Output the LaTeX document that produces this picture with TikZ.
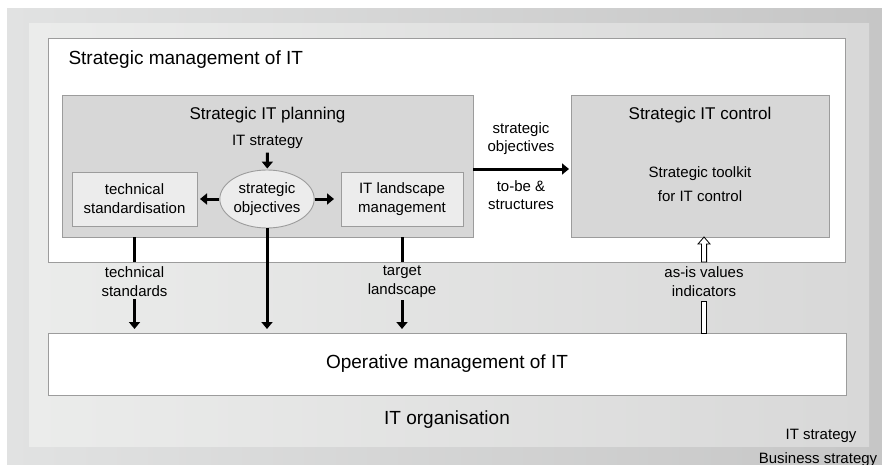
\documentclass[tikz,border=0pt]{standalone}
\usepackage{fontspec}
\setmainfont{Liberation Sans}
\usetikzlibrary{calc,positioning,arrows.meta,shapes.geometric,fit}
\definecolor{outerl}{HTML}{E1E2E2}
\definecolor{outerr}{HTML}{C6C6C6}
\definecolor{innerl}{HTML}{EBECEB}
\definecolor{innerr}{HTML}{D8D8D8}
\definecolor{edgegray}{HTML}{9C9C9C}
\definecolor{boxgray}{HTML}{D7D7D7}
\definecolor{subgray}{HTML}{ECECEC}
\newcommand\fbig{\fontsize{19}{22}\selectfont}
\newcommand\fmid{\fontsize{17}{20}\selectfont}
\newcommand\fsmall{\fontsize{15}{19}\selectfont}
\tikzset{
    frame/.style={
        rectangle,
        draw=edgegray,
        line width=0.9pt,
        fill=white,
        inner sep=0pt,
        outer sep=0pt,
    },
    stage/.style={
        frame,
        fill=boxgray,
    },
    subbox/.style={
        frame,
        fill=subgray,
        font=\fsmall,
        align=center,
        minimum height=54pt,
    },
    goal/.style={
        ellipse,
        draw=edgegray,
        line width=0.9pt,
        fill=subgray,
        font=\fsmall,
        align=center,
        inner sep=0pt,
        minimum width=91pt,
        minimum height=58pt,
    },
    lbl/.style={
        font=\fsmall,
        align=center,
        inner sep=2pt,
    },
    flow/.style={
        line width=3pt,
        -{Triangle[length=7pt,width=11pt]},
    },
    bar/.style={
        line width=3pt,
    },
    hollowbar/.style={
        draw=black,
        line width=0.8pt,
        fill=white,
        line join=miter,
    },
}
\begin{document}
\begin{tikzpicture}[x=1pt,y=1pt]
    \useasboundingbox (0,0) rectangle (882,-465);
    % strategy bands
    \fill[left color=outerl,right color=outerr] (7,-9) rectangle (882,-465);
    \fill[left color=innerl,right color=innerr] (29,-24) rectangle (869,-446);
    \node[anchor=base,font=\fsmall](bs) at (818,-463) { Business strategy };
    \node[anchor=base,font=\fsmall](its) at (821,-439) { IT strategy };
    % strategic level
    \node[frame,anchor=north west,minimum width=797pt,minimum height=224pt](sm) at (48,-38) {};
    \node[anchor=base west,font=\fbig](smt) at (65,-65) { Strategic management of IT };
    \node[stage,anchor=north west,minimum width=411pt,minimum height=142pt](plan) at (62,-95) {};
    \node[anchor=base,font=\fmid](plant) at ($(plan.north)+(0,-25)$) { Strategic IT planning };
    \node[anchor=base,font=\fsmall](itstr) at ($(plan.north)+(0,-51)$) { IT strategy };
    \node[goal](obj) at (267,-199) { strategic\\objectives };
    \node[subbox,minimum width=125pt](tech) at (134.5,-199) { technical\\standardisation };
    \node[subbox,minimum width=122pt](land) at (402,-199) { IT landscape\\management };
    \node[stage,anchor=north west,minimum width=258pt,minimum height=142pt](ctrl) at (571,-95) {};
    \node[anchor=base,font=\fmid](ctrlt) at ($(ctrl.north)+(0,-25)$) { Strategic IT control };
    \node[lbl,font=\fontsize{15}{24}\selectfont](kit) at ($(ctrl.center)+(0,-18)$) { Strategic toolkit\\for IT control };
    \node[lbl,font=\fontsize{15}{18}\selectfont](sobj) at (521,-139) { strategic\\objectives };
    \node[lbl,font=\fontsize{15}{18}\selectfont](tobe) at (521,-195) { to-be \&\\structures };
    % operative level
    \node[frame,anchor=north west,minimum width=798pt,minimum height=62pt](opm) at (48,-333) {};
    \node[font=\fbig](opmt) at (opm.center) { Operative management of IT };
    \node[font=\fbig](org) at (447,-420) { IT organisation };
    \node[lbl](tstd) at (134.5,-282) { technical\\standards };
    \node[lbl](tland) at (402,-282) { target\\landscape };
    \node[lbl](asis) at (704,-282) { as-is values\\indicators };
    \coordinate (tip) at (asis |- ctrl.south);
    % connectors
    \draw[flow,shorten >=1pt] (itstr) -- (obj);
    \draw[flow,shorten >=3pt] (obj) -- (tech);
    \draw[flow,shorten >=7pt] (obj) -- (land);
    \draw[flow,shorten >=2pt] ($(plan.east)+(0,-3)$) -- ($(ctrl.west)+(0,-3)$);
    \draw[bar] (tech |- plan.south) -- (tech |- sm.south);
    \draw[flow,shorten >=4pt] (tstd) -- (tech |- opm.north);
    \draw[flow,shorten >=4pt] (obj) -- (obj |- opm.north);
    \draw[bar] (land |- plan.south) -- (land |- sm.south);
    \draw[flow,shorten >=4pt] (tland) -- (land |- opm.north);
    \draw[hollowbar] ($(asis |- opm.north)+(-2.6,0)$) rectangle ($(asis.south)+(2.6,-2)$);
    \draw[hollowbar] (tip) -- ++(6,-7) -- ++(-3.4,0) -- ($(asis |- sm.south)+(2.6,0)$)
        -- ++(-5.2,0) -- ($(tip)+(-2.6,-7)$) -- ++(-3.4,0) -- cycle;
\end{tikzpicture}
\end{document}
